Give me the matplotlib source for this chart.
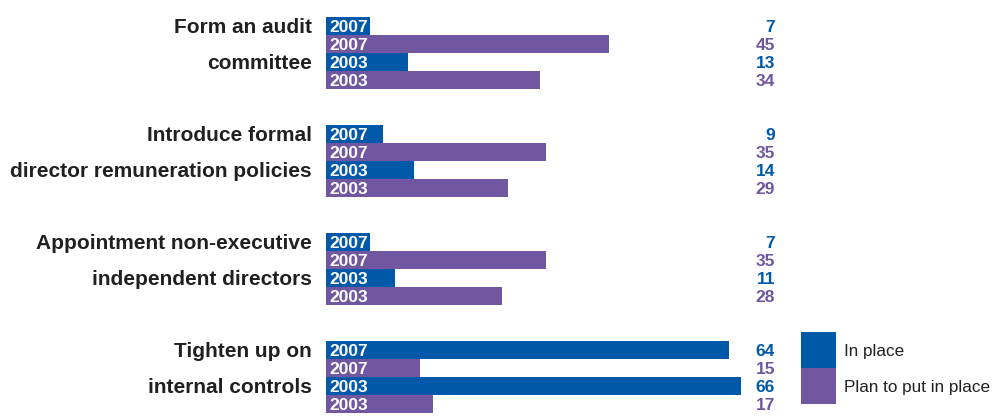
import matplotlib
matplotlib.use("Agg")
import matplotlib.pyplot as plt
from matplotlib.patches import Rectangle

categories = [["Form an audit", "committee"],
              ["Introduce formal", "director remuneration policies"],
              ["Appointment non-executive", "independent directors"],
              ["Tighten up on", "internal controls"]]
in_place_2007 = [7, 9, 7, 64]
plan_2007 = [45, 35, 35, 15]
in_place_2003 = [13, 14, 11, 66]
plan_2003 = [34, 29, 28, 17]
legend_labels = ["In place", "Plan to put in place"]

BLUE = "#0059a8"
PURPLE = "#7157a0"
TEXT = "#231f20"
FONT = ["Liberation Sans", "DejaVu Sans"]

fig = plt.figure(figsize=(10.01, 4.17), dpi=100)
ax = fig.add_axes([0, 0, 1, 1])
ax.axis("off")
px = 6.29  # pixels per unit
ax.set_xlim(-326 / px, (1001 - 326) / px)
ax.set_ylim((417 - 26) / 18.0, -26 / 18.0)
dy = 1.2 / 18.0  # small downward nudge for visual centring

for g in range(4):
    rows = [
        (in_place_2007[g], BLUE, "2007"),
        (plan_2007[g], PURPLE, "2007"),
        (in_place_2003[g], BLUE, "2003"),
        (plan_2003[g], PURPLE, "2003"),
    ]
    for j, (v, c, yr) in enumerate(rows):
        y = g * 6 + j
        ax.barh(y, v, height=1.0, color=c, left=0)
        ax.text(3.5 / px, y + dy, yr, color="white", fontweight="bold", fontsize=12.5,
                family=FONT, va="center", ha="left")
        ax.text(449 / px, y + dy, str(v), color=c, fontweight="bold", fontsize=12.5,
                family=FONT, va="center", ha="right")
    ax.text(-14 / px, g * 6 + dy, categories[g][0], fontweight="bold", fontsize=15,
            family=FONT, va="center", ha="right", color=TEXT)
    ax.text(-14 / px, g * 6 + 2 + dy, categories[g][1], fontweight="bold", fontsize=15,
            family=FONT, va="center", ha="right", color=TEXT)

# legend
for k, (c, lab) in enumerate(zip([BLUE, PURPLE], legend_labels)):
    y0 = 17 + 2 * k
    ax.add_patch(Rectangle((475 / px, y0), 35 / px, 2, color=c, lw=0))
    ax.text(518 / px, y0 + 1 + dy, lab, fontsize=12.3, family=FONT, va="center",
            ha="left", color=TEXT)

fig.savefig("out.png", dpi=100)
